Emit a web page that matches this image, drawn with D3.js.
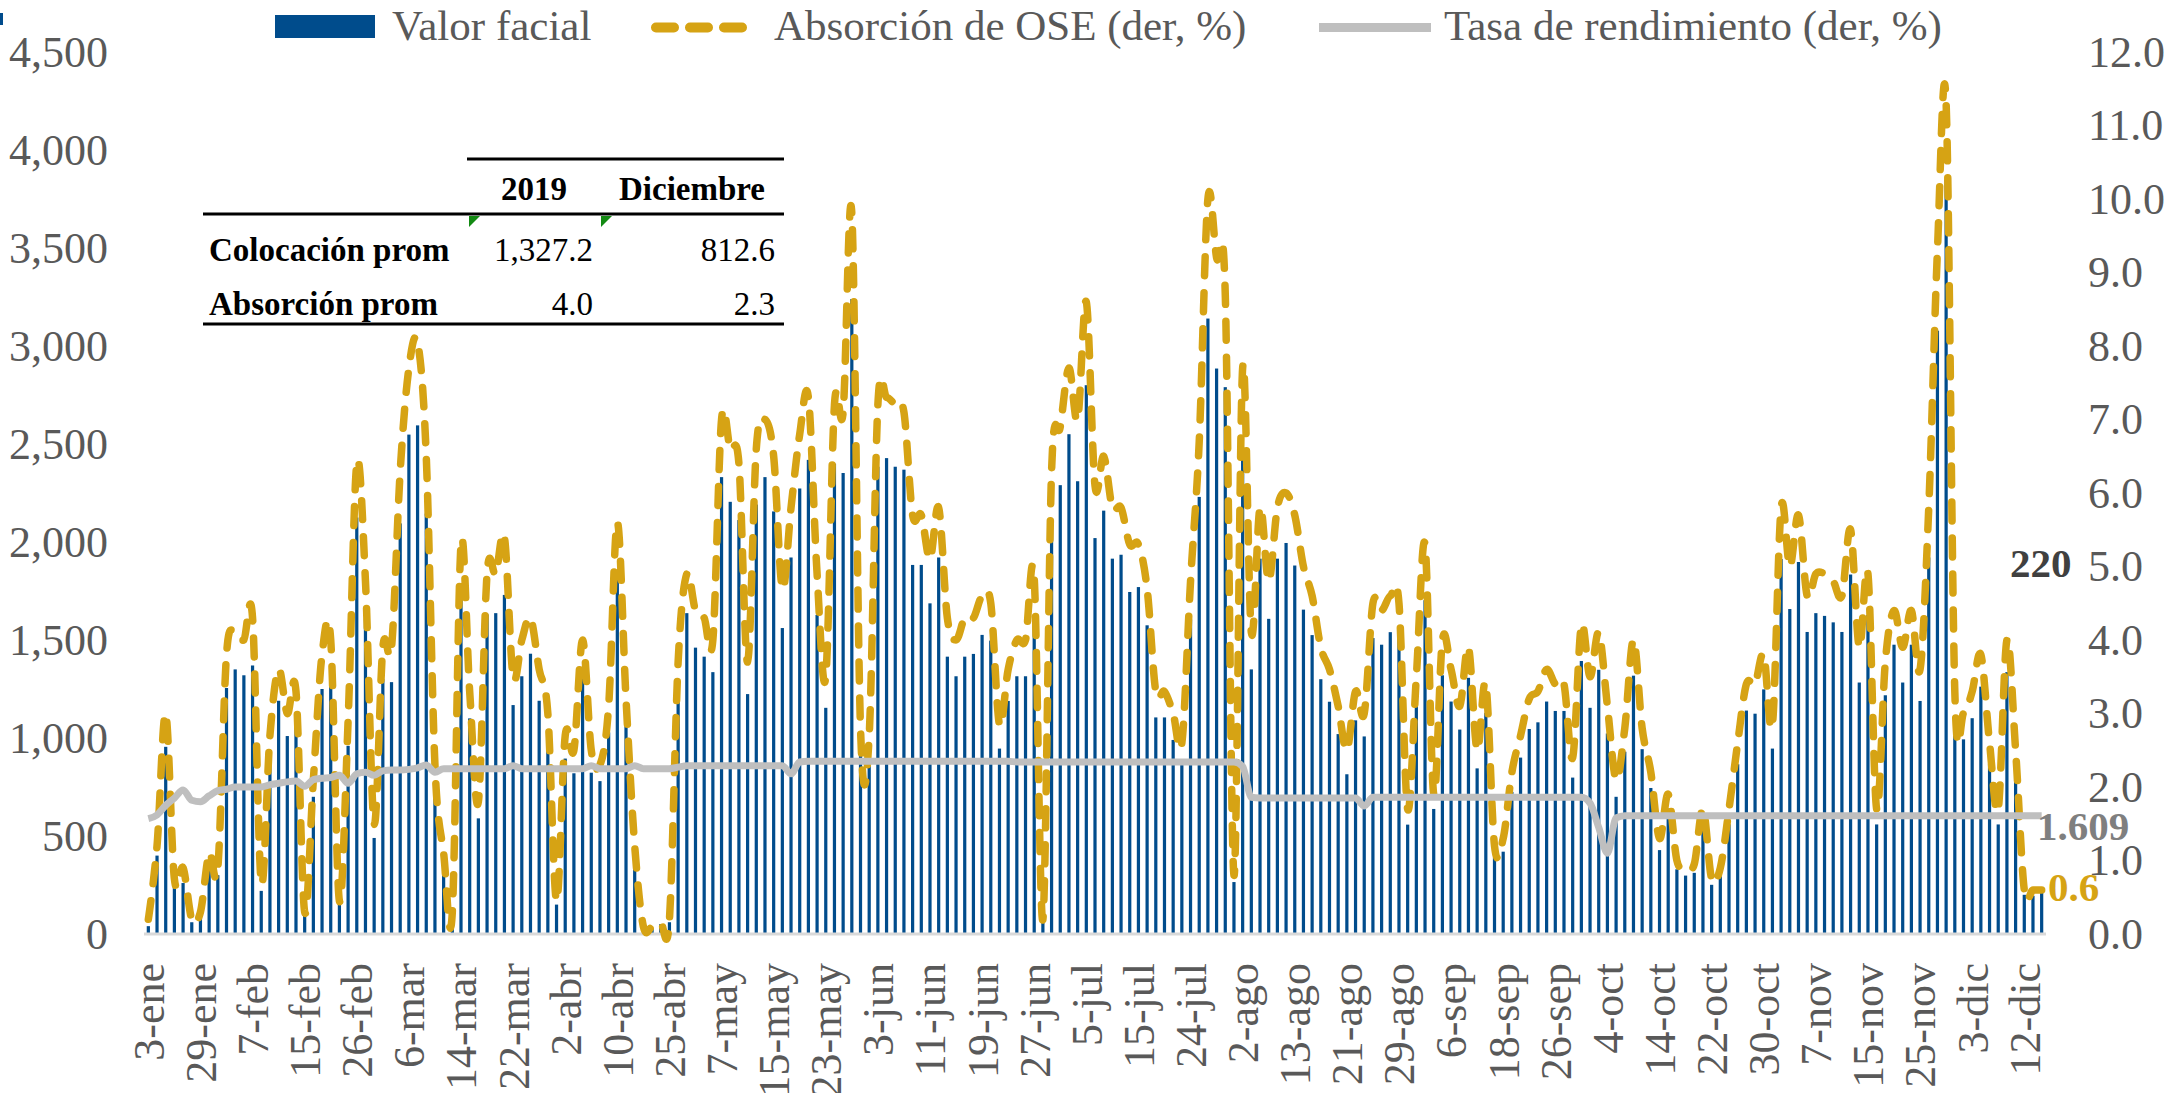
<!DOCTYPE html>
<html>
<head>
<meta charset="utf-8">
<script src="https://cdn.jsdelivr.net/npm/d3@7"></script>
<style>
    body { margin: 0; background: #ffffff; }
    svg { display: block; font-family: "Liberation Serif", "DejaVu Serif", serif; }
</style>
</head>
<body>
<svg id="chart" width="2177" height="1093"></svg>
<script>
// Tick labels on the category axis (one every 6 auctions)
const tickLabels = ["3-ene", "29-ene", "7-feb", "15-feb", "26-feb", "6-mar", "14-mar", "22-mar", "2-abr", "10-abr",
    "25-abr", "7-may", "15-may", "23-may", "3-jun", "11-jun", "19-jun", "27-jun", "5-jul", "15-jul",
    "24-jul", "2-ago", "13-ago", "21-ago", "29-ago", "6-sep", "18-sep", "26-sep", "4-oct", "14-oct",
    "22-oct", "30-oct", "7-nov", "15-nov", "25-nov", "3-dic", "12-dic"];
const labelEvery = 6;

// Valor facial (left axis)
const valorFacial = [
    40, 400, 955, 250, 260, 60, 90, 375, 300, 1255,
    1350, 1320, 1370, 220, 880, 1190, 1010, 1080, 95, 700,
    1250, 1320, 150, 960, 2125, 1610, 490, 1300, 1285, 2095,
    2548, 2595, 2145, 750, 370, 95, 1705, 1100, 590, 1630,
    1637, 1730, 1168, 1315, 1430, 1190, 1000, 150, 895, 820,
    1325, 823, 780, 1028, 1850, 1060, 400, 40, 30, 50,
    60, 1224, 1637, 1461, 1415, 1336, 2331, 2205, 2112, 1224,
    2191, 2331, 2156, 1561, 1921, 2273, 2419, 1628, 1154, 2399,
    2352, 3239, 930, 900, 2384, 2428, 2384, 2369, 1883, 1883,
    1687, 1921, 1415, 1315, 1415, 1429, 1526, 1497, 946, 1189,
    1315, 1315, 1610, 70, 2080, 2290, 2550, 2310, 2800, 2020,
    2160, 1915, 1935, 1745, 1770, 1575, 1105, 1105, 990, 870,
    1605, 2230, 3140, 2885, 2790, 265, 2480, 1350, 1915, 1608,
    1915, 1995, 1880, 1655, 1525, 1300, 1185, 1020, 815, 1090,
    1008, 1510, 1476, 1540, 1510, 558, 1170, 1703, 638, 1320,
    1186, 1043, 1307, 845, 1128, 390, 420, 725, 900, 1046,
    1080, 1186, 1138, 1138, 798, 1393, 1154, 1348, 1023, 700,
    930, 1318, 943, 745, 428, 640, 330, 298, 312, 560,
    251, 295, 560, 866, 1140, 1124, 1248, 946, 1913, 1658,
    1898, 1541, 1637, 1623, 1590, 1541, 1834, 1283, 1628, 559,
    1218, 1476, 1283, 1476, 1189, 1921, 3078, 3850, 1087, 993,
    1101, 1262, 867, 559, 1336, 838, 200, 195, 220
];

// Absorción de OSE (right axis, %)
const absorcion = [
    0.2, 1.2, 3.0, 0.75, 0.9, 0.2, 0.3, 1.1, 0.9, 3.8,
    4.1, 4.0, 4.3, 0.7, 2.7, 3.6, 3.0, 3.3, 0.3, 2.1,
    3.8, 4.0, 0.45, 2.9, 6.4, 4.8, 1.5, 3.9, 3.9, 6.3,
    7.7, 8.05, 6.5, 2.3, 1.1, 0.3, 5.3, 3.3, 1.8, 4.9,
    4.9, 5.4, 3.5, 4.0, 4.3, 3.6, 3.0, 0.45, 2.7, 2.5,
    4.0, 2.5, 2.3, 3.1, 5.6, 3.2, 1.2, 0.1, 0.1, 0.15,
    0.2, 3.7, 4.9, 4.4, 4.3, 4.0, 7.0, 6.6, 6.4, 3.7,
    6.6, 7.0, 6.5, 4.7, 5.8, 6.8, 7.3, 4.9, 3.5, 7.2,
    7.1, 9.8, 2.8, 2.7, 7.2, 7.3, 7.2, 7.1, 5.7, 5.7,
    5.1, 5.8, 4.3, 4.0, 4.3, 4.3, 4.6, 4.5, 2.85, 3.6,
    4.0, 4.0, 4.85, 0.2, 6.3, 6.9, 7.7, 7.0, 8.6, 6.1,
    6.5, 5.8, 5.8, 5.3, 5.3, 4.7, 3.3, 3.3, 3.0, 2.6,
    4.8, 6.7, 10.0, 9.2, 8.7, 0.8, 7.7, 4.1, 5.8, 4.8,
    5.8, 6.0, 5.7, 5.0, 4.6, 3.9, 3.6, 3.1, 2.5, 3.3,
    3.0, 4.5, 4.4, 4.6, 4.5, 1.7, 3.5, 5.3, 1.9, 4.0,
    3.6, 3.1, 3.9, 2.5, 3.4, 1.2, 1.3, 2.2, 2.7, 3.2,
    3.3, 3.6, 3.4, 3.4, 2.4, 4.2, 3.5, 4.1, 3.1, 2.1,
    2.8, 4.0, 2.8, 2.2, 1.3, 1.9, 1.0, 0.9, 0.95, 1.7,
    0.75, 0.9, 1.7, 2.6, 3.4, 3.4, 3.8, 2.85, 5.8, 5.0,
    5.7, 4.6, 4.9, 4.9, 4.8, 4.6, 5.5, 3.9, 4.9, 1.7,
    3.7, 4.4, 3.9, 4.4, 3.6, 5.8, 9.3, 11.3, 3.3, 3.0,
    3.3, 3.8, 2.6, 1.7, 4.0, 2.5, 0.6, 0.6, 0.6
];

// Tasa de rendimiento (right axis, %)
const tasa = [
    1.57, 1.62, 1.75, 1.85, 1.96, 1.82, 1.80, 1.88, 1.95, 1.97,
    2.00, 2.00, 2.00, 2.00, 2.03, 2.05, 2.07, 2.08, 2.01, 2.10,
    2.12, 2.13, 2.16, 2.05, 2.18, 2.20, 2.16, 2.22, 2.23, 2.23,
    2.24, 2.26, 2.30, 2.20, 2.25, 2.25, 2.25, 2.25, 2.25, 2.25,
    2.25, 2.25, 2.29, 2.25, 2.25, 2.25, 2.25, 2.25, 2.25, 2.25,
    2.25, 2.29, 2.25, 2.25, 2.25, 2.25, 2.29, 2.25, 2.25, 2.25,
    2.25, 2.27, 2.29, 2.29, 2.29, 2.29, 2.29, 2.29, 2.29, 2.29,
    2.29, 2.29, 2.29, 2.29, 2.18, 2.34, 2.35, 2.35, 2.35, 2.35,
    2.35, 2.35, 2.35, 2.35, 2.35, 2.35, 2.35, 2.35, 2.35, 2.35,
    2.35, 2.35, 2.35, 2.35, 2.35, 2.35, 2.35, 2.35, 2.35, 2.35,
    2.34, 2.34, 2.34, 2.34, 2.34, 2.34, 2.34, 2.34, 2.34, 2.34,
    2.34, 2.34, 2.34, 2.34, 2.34, 2.34, 2.34, 2.34, 2.34, 2.34,
    2.34, 2.34, 2.34, 2.34, 2.34, 2.34, 2.28, 1.86, 1.85, 1.85,
    1.85, 1.85, 1.85, 1.85, 1.85, 1.85, 1.85, 1.85, 1.85, 1.85,
    1.74, 1.86, 1.86, 1.86, 1.86, 1.86, 1.86, 1.86, 1.86, 1.86,
    1.86, 1.86, 1.86, 1.86, 1.86, 1.86, 1.86, 1.86, 1.86, 1.86,
    1.86, 1.86, 1.86, 1.86, 1.86, 1.86, 1.78, 1.45, 1.10, 1.58,
    1.61, 1.61, 1.61, 1.61, 1.61, 1.61, 1.61, 1.61, 1.61, 1.61,
    1.61, 1.61, 1.61, 1.61, 1.61, 1.61, 1.61, 1.61, 1.61, 1.61,
    1.61, 1.61, 1.61, 1.61, 1.61, 1.61, 1.61, 1.61, 1.61, 1.61,
    1.61, 1.61, 1.61, 1.61, 1.61, 1.61, 1.61, 1.61, 1.61, 1.61,
    1.61, 1.61, 1.61, 1.61, 1.61, 1.61, 1.61, 1.61, 1.609
];

// Axis ticks
const leftTicks = [0, 500, 1000, 1500, 2000, 2500, 3000, 3500, 4000, 4500];
const rightTicks = [0, 1, 2, 3, 4, 5, 6, 7, 8, 9, 10, 11, 12];

// Inset table
const tableHead = ["2019", "Diciembre"];
const tableRows = [
    ["Colocación prom", "1,327.2", "812.6"],
    ["Absorción prom", "4.0", "2.3"]
];

// Legend entries
const legendItems = ["Valor facial", "Absorción de OSE (der, %)", "Tasa de rendimiento (der, %)"];

// Colors
const blue = "#004C8C";
const gold = "#D6A314";
const grey = "#BFBFBF";
const textGrey = "#595959";

const svg = d3.select("#chart");
svg.append("rect").attr("width", 2177).attr("height", 1093).attr("fill", "#ffffff");

// Scales
const categories = d3.range(valorFacial.length);
const x = d3.scaleBand()
    .domain(categories)
    .range([144, 2046])
    .paddingInner(0.63)
    .paddingOuter(0.315);
const cx = i => x(i) + x.bandwidth() / 2;

const yLeft = d3.scaleLinear().domain([0, 4500]).range([934, 52]);
const yRight = d3.scaleLinear().domain([0, 12]).range([934, 52]);

// Bars
svg.append("g")
    .selectAll("rect")
    .data(valorFacial)
    .enter().append("rect")
    .attr("x", (d, i) => x(i))
    .attr("y", d => yLeft(d))
    .attr("width", x.bandwidth())
    .attr("height", d => yLeft(0) - yLeft(d))
    .attr("fill", blue);

// Category axis line
svg.append("line")
    .attr("x1", x.range()[0]).attr("x2", x.range()[1])
    .attr("y1", yLeft(0)).attr("y2", yLeft(0))
    .attr("stroke", "#D9D9D9")
    .attr("stroke-width", 3);

// Absorción line (smoothed, dashed)
const absLine = d3.line()
    .x((d, i) => cx(i))
    .y(d => yRight(d))
    .curve(d3.curveCardinal.tension(0));

svg.append("path")
    .datum(absorcion)
    .attr("d", absLine)
    .attr("fill", "none")
    .attr("stroke", gold)
    .attr("stroke-width", 7.5)
    .attr("stroke-linecap", "round")
    .attr("stroke-dasharray", "19,17");

// Tasa line
const rateLine = d3.line()
    .x((d, i) => cx(i))
    .y(d => yRight(d))
    .curve(d3.curveMonotoneX);

svg.append("path")
    .datum(tasa)
    .attr("d", rateLine)
    .attr("fill", "none")
    .attr("stroke", grey)
    .attr("stroke-width", 7)
    .attr("stroke-linejoin", "round");

// Axes
function styleAxis(g) {
    g.select(".domain").remove();
    g.attr("font-family", null).attr("font-size", null);
    g.selectAll("text")
        .style("font-family", "'Liberation Serif', serif")
        .style("font-size", "44px")
        .attr("fill", textGrey);
}

svg.append("g")
    .attr("transform", "translate(112,0)")
    .call(d3.axisLeft(yLeft).tickValues(leftTicks).tickSize(0).tickPadding(4).tickFormat(d3.format(",")))
    .call(styleAxis);

svg.append("g")
    .attr("transform", "translate(2084,0)")
    .call(d3.axisRight(yRight).tickValues(rightTicks).tickSize(0).tickPadding(4).tickFormat(d3.format(".1f")))
    .call(styleAxis);

const tickIdx = categories.filter(i => i % labelEvery === 0).slice(0, tickLabels.length);
svg.append("g")
    .attr("transform", `translate(0,${yLeft(0)})`)
    .call(d3.axisBottom(x).tickValues(tickIdx).tickSize(0).tickFormat(i => tickLabels[i / labelEvery]))
    .call(styleAxis)
    .selectAll("text")
    .attr("transform", "rotate(-90)")
    .attr("text-anchor", "end")
    .attr("x", -29)
    .attr("y", 0)
    .attr("dy", "0.35em");

// Legend
const legend = svg.append("g").style("font-size", "43px").attr("fill", textGrey);
legend.append("rect").attr("x", 275).attr("y", 15).attr("width", 100).attr("height", 23).attr("fill", blue);
legend.append("text").attr("x", 392).attr("y", 40).text(legendItems[0]);
legend.append("line")
    .attr("x1", 656).attr("x2", 746).attr("y1", 27.5).attr("y2", 27.5)
    .attr("stroke", gold).attr("stroke-width", 10)
    .attr("stroke-linecap", "round").attr("stroke-dasharray", "18,16");
legend.append("text").attr("x", 774).attr("y", 40).text(legendItems[1]);
legend.append("line")
    .attr("x1", 1319).attr("x2", 1431).attr("y1", 27.5).attr("y2", 27.5)
    .attr("stroke", grey).attr("stroke-width", 9);
legend.append("text").attr("x", 1444).attr("y", 40).text(legendItems[2]);

// small mark at the top-left edge
svg.append("rect").attr("x", 0).attr("y", 13).attr("width", 3).attr("height", 12).attr("fill", blue);

// End labels
const last = valorFacial.length - 1;
svg.append("text")
    .attr("x", 2010).attr("y", 577)
    .style("font-size", "41px").style("font-weight", "bold")
    .attr("fill", "#404040")
    .text(valorFacial[last]);
svg.append("text")
    .attr("x", 2037).attr("y", yRight(tasa[last]) + 24)
    .style("font-size", "41px").style("font-weight", "bold")
    .attr("fill", "#7F7F7F")
    .text(d3.format(".3f")(tasa[last]));
svg.append("text")
    .attr("x", 2048).attr("y", yRight(absorcion[last]) + 11)
    .style("font-size", "41px").style("font-weight", "bold")
    .attr("fill", gold)
    .text(d3.format(".1f")(absorcion[last]));

// Inset table
const table = svg.append("g").attr("fill", "#000000").style("font-size", "33px");
const colRight = [593, 775];
const colCenter = [534, 692];
table.append("line").attr("x1", 467).attr("x2", 784).attr("y1", 159).attr("y2", 159)
    .attr("stroke", "#000").attr("stroke-width", 3);
table.append("line").attr("x1", 203).attr("x2", 784).attr("y1", 214).attr("y2", 214)
    .attr("stroke", "#000").attr("stroke-width", 3);
table.append("line").attr("x1", 203).attr("x2", 784).attr("y1", 324).attr("y2", 324)
    .attr("stroke", "#000").attr("stroke-width", 3);

tableHead.forEach((h, k) => {
    table.append("text")
        .attr("x", colCenter[k]).attr("y", 200)
        .attr("text-anchor", "middle")
        .style("font-weight", "bold")
        .text(h);
});

tableRows.forEach((row, r) => {
    const yy = 261 + r * 54;
    table.append("text").attr("x", 209).attr("y", yy).style("font-weight", "bold").text(row[0]);
    table.append("text").attr("x", colRight[0]).attr("y", yy).attr("text-anchor", "end").text(row[1]);
    table.append("text").attr("x", colRight[1]).attr("y", yy).attr("text-anchor", "end").text(row[2]);
});

// green cell markers
[469, 601].forEach(px => {
    table.append("path")
        .attr("d", `M${px},216 L${px + 11},216 L${px},227 Z`)
        .attr("fill", "#138A13");
});
</script>
</body>
</html>
